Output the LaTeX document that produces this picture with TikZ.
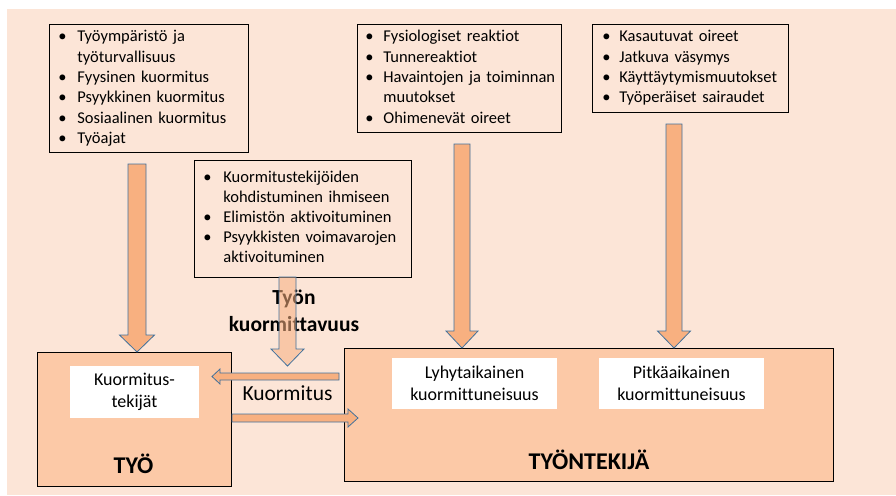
\documentclass[tikz,border=0pt]{standalone}
\usepackage{fontspec}
\setmainfont[Ligatures=NoCommon]{Carlito}
\usetikzlibrary{calc}

\definecolor{bgpeach}{HTML}{FCE5D7}
\definecolor{boxpeach}{HTML}{FCC9A7}
\definecolor{arrowpeach}{HTML}{F8B080}
\definecolor{arrowline}{HTML}{41719C}

% block arrow: [opts]{from}{tip}{half shaft}{half head}{head length}
\newcommand{\blockarrow}[6][]{%
  \coordinate (hb) at ($(#3)!#6!(#2)$);
  \draw[blockarrow,#1] ($(#2)!#4!90:(#3)$) -- ($(hb)!#4!90:(#3)$) -- ($(hb)!#5!90:(#3)$)
    -- (#3) -- ($(hb)!#5!-90:(#3)$) -- ($(hb)!#4!-90:(#3)$) -- ($(#2)!#4!-90:(#3)$) -- cycle;
}

\begin{document}
\begin{tikzpicture}[x=1pt, y=-1pt,
    listbox/.style={draw=black, line width=0.8pt, anchor=north west, align=left,
      inner xsep=9pt, inner ysep=3pt, font=\fontsize{16.5}{20.4}\selectfont},
    bigbox/.style={draw=black, line width=0.9pt, fill=boxpeach, anchor=north west,
      inner sep=0pt, outer sep=0pt},
    whitebox/.style={fill=white, align=center, inner sep=0pt,
      font=\fontsize{18}{22.5}\selectfont},
    heading/.style={anchor=base, font=\fontsize{24}{28}\selectfont\bfseries},
    blockarrow/.style={fill=arrowpeach, draw=arrowline, line width=0.8pt, line join=miter}]
  \useasboundingbox (0,0) rectangle (896,495);
  \fill[bgpeach] (7,9) rectangle (896,495);

  \node[listbox, text width=181pt] (env) at (49,24) {\noindent
    \begin{tabular}{@{}p{19pt}@{}l@{}}
      \textbullet & Työympäristö ja\\
                  & työturvallisuus\\
      \textbullet & Fyysinen kuormitus\\
      \textbullet & Psyykkinen kuormitus\\
      \textbullet & Sosiaalinen kuormitus\\
      \textbullet & Työajat
    \end{tabular}};
  \node[listbox, text width=188pt, inner xsep=8pt] (reac) at (357,24) {\noindent
    \begin{tabular}{@{}p{18pt}@{}l@{}}
      \textbullet & Fysiologiset reaktiot\\
      \textbullet & Tunnereaktiot\\
      \textbullet & Havaintojen ja toiminnan\\
                  & muutokset\\
      \textbullet & Ohimenevät oireet
    \end{tabular}};
  \node[listbox, text width=176pt, inner xsep=10pt] (symp) at (592,24) {\noindent
    \begin{tabular}{@{}p{17pt}@{}l@{}}
      \textbullet & Kasautuvat oireet\\
      \textbullet & Jatkuva väsymys\\
      \textbullet & Käyttäytymismuutokset\\
      \textbullet & Työperäiset sairaudet
    \end{tabular}};
  \node[listbox, text width=199pt, inner ysep=8.5pt, font=\fontsize{16.5}{20}\selectfont] (load) at (194,160) {\noindent
    \begin{tabular}{@{}p{20pt}@{}l@{}}
      \textbullet & Kuormitustekijöiden\\
                  & kohdistuminen ihmiseen\\
      \textbullet & Elimistön aktivoituminen\\
      \textbullet & Psyykkisten voimavarojen\\
                  & aktivoituminen
    \end{tabular}};

  \node[bigbox, minimum width=194pt, minimum height=134pt] (tyo) at (37,352) {};
  \node[bigbox, minimum width=489pt, minimum height=133pt] (tekija) at (344,348) {};
  \node[whitebox, minimum width=129pt, minimum height=52pt] (kt) at (134.5,392) {Kuormitus-\\tekijät};
  \node[whitebox, minimum width=165pt, minimum height=51pt] (lyhyt) at (474.5,383.5) {Lyhytaikainen\\kuormittuneisuus};
  \node[whitebox, minimum width=165pt, minimum height=51pt] (pitka) at (681.5,383.5) {Pitkäaikainen\\kuormittuneisuus};
  \node[heading] (tyolbl) at (133.5,473) {TYÖ};
  \node[heading] (tekijalbl) at (589,469) {TYÖNTEKIJÄ};
  \node[anchor=base, font=\fontsize{21.5}{26}\selectfont] (kuorm) at (287.5,400.5) {Kuormitus};
  \node[align=center, inner sep=0pt, font=\fontsize{21.5}{27}\selectfont\bfseries] (kuormit) at (294,310.5) {Työn\\kuormittavuus};

  \coordinate (a1s) at (137,164);
  \coordinate (a1e) at (a1s |- tyo.north);
  \coordinate (a2s) at (287.5,277);
  \coordinate (a2e) at (287.5,366);
  \coordinate (a3s) at (462,144);
  \coordinate (a3e) at (a3s |- tekija.north);
  \coordinate (a4s) at (674,124);
  \coordinate (a4e) at (a4s |- tekija.north);
  \coordinate (a5s) at (339,376.5);
  \coordinate (a5e) at (212,376.5);
  \coordinate (a6s) at (232,418);
  \coordinate (a6e) at (358,418);

  \blockarrow{a1s}{a1e}{9pt}{17.5pt}{17pt}
  \blockarrow{a3s}{a3e}{8pt}{16pt}{17pt}
  \blockarrow{a4s}{a4e}{8pt}{16.5pt}{17pt}
  \blockarrow{a5s}{a5e}{3.5pt}{7.5pt}{8pt}
  \blockarrow{a6s}{a6e}{4pt}{9pt}{10pt}
  \blockarrow[fill opacity=0.55]{a2s}{a2e}{8.5pt}{16.5pt}{17pt}
\end{tikzpicture}
\end{document}
